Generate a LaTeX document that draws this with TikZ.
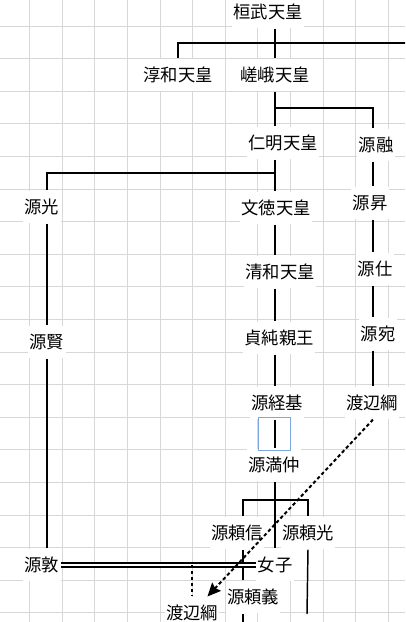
\documentclass[tikz,border=0pt]{standalone}
\usepackage{fontspec}
\setmainfont{Noto Sans CJK JP}
\usetikzlibrary{arrows.meta}
\definecolor{gridgray}{RGB}{215,215,215}
\definecolor{frameblue}{RGB}{126,166,224}

\begin{document}
\begin{tikzpicture}[x=0.75pt,y=-0.75pt,
  person/.style={fill=white,inner xsep=1pt,inner ysep=0pt,minimum height=24.4pt,
    font=\fontsize{13}{15}\selectfont},
  kin/.style={line width=1.1pt},
  marriage/.style={double,line width=1.2pt,double distance=1.5pt},
  dotline/.style={line width=1.5pt,dash pattern=on 2.6pt off 1.9pt},
  dotarrow/.style={dotline,-{Stealth[length=10pt,width=9pt,inset=1.5pt]}}]
\useasboundingbox (0,0) rectangle (405,622);
\clip (0,0) rectangle (405,622);
\fill[white] (0,0) rectangle (405,622);
\foreach \k in {0,1,...,11}{
\draw[gridgray,line width=0.7pt] ({29.6+32.6*\k},0)--({29.6+32.6*\k},622);
}
\foreach \k in {0,1,...,18}{
\draw[gridgray,line width=0.7pt] (0,{26+32.6*\k})--(405,{26+32.6*\k});
}

\coordinate (colL) at (47,0);
\coordinate (colM) at (275,0);
\coordinate (colR) at (373,0);

\node[person] (kammu) at (268,12) {桓武天皇};
\node[person] (junna) at (178,75) {淳和天皇};
\node[person] (saga) at (275,75) {嵯峨天皇};
\node[person] (ninmyo) at (283,143) {仁明天皇};
\node[person] (tooru) at (376,145) {源融};
\node[person] (hikaru) at (42,207) {源光};
\node[person] (montoku) at (276,208) {文徳天皇};
\node[person] (noboru) at (370,203) {源昇};
\node[person] (seiwa) at (280,272) {清和天皇};
\node[person] (tsukau) at (375,269) {源仕};
\node[person] (masaru) at (47,342) {源賢};
\node[person] (sadazumi) at (279,338) {貞純親王};
\node[person] (ate) at (378,334) {源宛};
\node[person] (tsunemoto) at (277,403) {源経基};
\node[person] (watanabeA) at (372,403) {渡辺綱};
\node[person] (mitsunaka) at (274,465) {源満仲};
\node[person] (yorinobu) at (237,533) {源頼信};
\node[person] (yorimitsu) at (308,533) {源頼光};
\node[person] (atsushi) at (42,565) {源敦};
\node[person] (nyoshi) at (275,565) {女子};
\node[person] (yoriyoshi) at (253,597) {源頼義};
\node[person] (watanabeB) at (192,613) {渡辺綱};
\node[draw=frameblue,line width=0.8pt,minimum width=24pt,minimum height=24.4pt] (frame) at (274.5,434) {};

\coordinate (kammuR) at (410,43);
\coordinate (jSaga) at (275,108);
\coordinate (jNinmyo) at (275,173);
\coordinate (jMitsunaka) at (275,500);
\coordinate (yoriyoshiD) at (243,630);
\coordinate (yorimitsuD) at (307,614);

\draw[kin] (kammu.south -| colM)--(saga.north -| colM);
\draw[kin] (junna.north) |- (kammuR);
\draw[kin] (saga.south -| colM)--(ninmyo.north -| colM);
\draw[kin] (jSaga) -| (tooru.north -| colR);
\draw[kin] (ninmyo.south -| colM)--(montoku.north -| colM);
\draw[kin] (jNinmyo) -| (hikaru.north -| colL);
\draw[kin] (montoku.south -| colM)--(seiwa.north -| colM);
\draw[kin] (seiwa.south -| colM)--(sadazumi.north -| colM);
\draw[kin] (sadazumi.south -| colM)--(tsunemoto.north -| colM);
\draw[kin] (tsunemoto.south -| colM)--(mitsunaka.north -| colM);
\draw[kin] (hikaru.south -| colL)--(masaru.north -| colL);
\draw[kin] (masaru.south -| colL)--(atsushi.north -| colL);
\draw[kin] (tooru.south -| colR)--(noboru.north -| colR);
\draw[kin] (noboru.south -| colR)--(tsukau.north -| colR);
\draw[kin] (tsukau.south -| colR)--(ate.north -| colR);
\draw[kin] (ate.south -| colR)--(watanabeA.north -| colR);
\draw[kin] (mitsunaka.south -| colM)--(nyoshi.north -| colM);
\draw[kin] ([xshift=4.5pt]yorinobu.north) |- (jMitsunaka) -| (yorimitsu.north);
\draw[kin] ([xshift=4.5pt]yorinobu.south)--([xshift=-7.5pt]yoriyoshi.north);
\draw[kin] ([xshift=-7.5pt]yoriyoshi.south)--(yoriyoshiD);
\draw[kin] (yorimitsu.south)--(yorimitsuD);
\draw[marriage] (atsushi.east)--(nyoshi.west);
\draw[dotline] (atsushi.east -| watanabeB.north)--(watanabeB.north);
\draw[dotarrow] ([xshift=0.75pt]watanabeA.south)--(watanabeB);
\end{tikzpicture}
\end{document}
